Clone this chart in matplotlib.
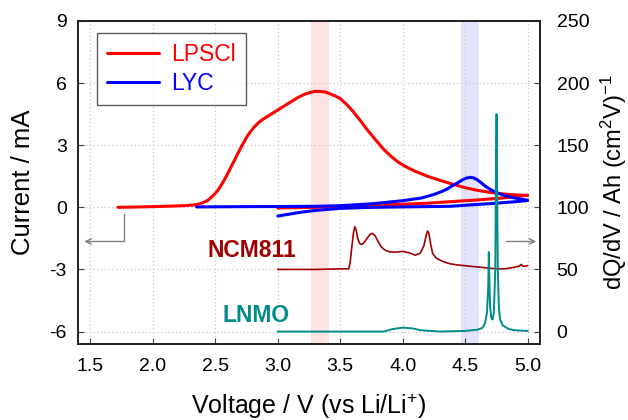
import matplotlib
matplotlib.use("Agg")
import matplotlib.pyplot as plt

plt.rcParams['font.family'] = ['Liberation Sans', 'DejaVu Sans']
plt.rcParams['mathtext.fontset'] = 'custom'
plt.rcParams['mathtext.rm'] = 'Liberation Sans'
plt.rcParams['mathtext.it'] = 'Liberation Sans:italic'

# --- CV data (current, mA) ---
lpscl_fwd_v = [1.72, 1.9, 2.1, 2.25, 2.32, 2.36, 2.40, 2.44, 2.48, 2.52, 2.56, 2.60,
               2.64, 2.68, 2.72, 2.76, 2.80, 2.84, 2.88, 2.92, 2.96, 3.0, 3.04,
               3.08, 3.12, 3.16, 3.21, 3.26, 3.30, 3.34, 3.38, 3.42, 3.46, 3.50,
               3.55, 3.60, 3.66, 3.72, 3.78, 3.84, 3.90, 3.96, 4.02, 4.10, 4.20,
               4.30, 4.40, 4.50, 4.60, 4.70, 4.80, 4.90, 5.0]
lpscl_fwd_i = [0.0, 0.02, 0.05, 0.08, 0.11, 0.15, 0.22, 0.34, 0.55, 0.82, 1.2, 1.64,
               2.12, 2.6, 3.06, 3.48, 3.8, 4.06, 4.25, 4.4, 4.55, 4.7, 4.85,
               5.0, 5.15, 5.3, 5.45, 5.55, 5.6, 5.6, 5.57, 5.48, 5.38, 5.25,
               4.98, 4.65, 4.2, 3.72, 3.28, 2.85, 2.5, 2.2, 1.98, 1.74, 1.5,
               1.3, 1.12, 0.95, 0.82, 0.72, 0.65, 0.6, 0.58]
lpscl_rev_v = [5.0, 4.8, 4.6, 4.4, 4.2, 4.0, 3.75, 3.5, 3.3, 3.0]
lpscl_rev_i = [0.58, 0.45, 0.36, 0.28, 0.2, 0.15, 0.1, 0.05, 0.0, -0.03]

lyc_fwd_v = [2.35, 2.6, 3.0, 3.3, 3.5, 3.75, 4.0, 4.15, 4.25, 4.32, 4.36, 4.40,
             4.45, 4.48, 4.51, 4.54, 4.57, 4.60, 4.63, 4.66, 4.70, 4.75, 4.80,
             4.88, 4.95, 5.0]
lyc_fwd_i = [0.02, 0.03, 0.04, 0.05, 0.08, 0.17, 0.32, 0.45, 0.62, 0.78, 0.9, 1.05,
             1.22, 1.33, 1.41, 1.45, 1.42, 1.32, 1.18, 1.03, 0.87, 0.72, 0.6,
             0.47, 0.39, 0.35]
lyc_rev_v = [5.0, 4.9, 4.75, 4.5, 4.38, 4.0, 3.75, 3.5, 3.3, 3.18, 3.0]
lyc_rev_i = [0.33, 0.27, 0.2, 0.1, 0.05, 0.02, 0.0, -0.05, -0.15, -0.24, -0.42]

# --- dQ/dV data, (cm^2 V)^-1 per Ah, offset curves ---
ncm_v = [3.0, 3.3, 3.5, 3.568, 3.58, 3.595, 3.607, 3.617, 3.627, 3.64, 3.655,
         3.67, 3.69, 3.715, 3.74, 3.76, 3.78, 3.80, 3.83, 3.86, 3.90, 3.95,
         4.0, 4.05, 4.10, 4.14, 4.17, 4.19, 4.20, 4.21, 4.225, 4.24, 4.27,
         4.32, 4.38, 4.45, 4.55, 4.65, 4.75, 4.82, 4.88, 4.93, 4.95, 4.965, 5.0]
ncm_q = [50, 50, 50.5, 50.5, 56, 70, 80, 84.5, 82, 75, 71,
         70, 71.5, 75, 78.5, 79, 77, 73, 68, 65.5, 64, 64,
         64.5, 63.5, 61.5, 63, 69, 78, 81, 79, 70, 63, 59,
         56.5, 54.5, 53.5, 52.5, 51.5, 50.5, 50.5, 51.5, 52.5, 54, 52.5, 53]
lnmo_v = [3.0, 3.85, 3.92, 4.0, 4.08, 4.15, 4.3, 4.5, 4.6, 4.64, 4.66, 4.675,
          4.685, 4.69, 4.695, 4.70, 4.71, 4.72, 4.73, 4.742, 4.748, 4.752, 4.756,
          4.762, 4.77, 4.78, 4.80, 4.85, 4.9, 5.0]
lnmo_q = [0, 0, 2, 3.2, 2.5, 1, 0, 0.5, 1.5, 3, 7, 15,
          35, 64, 40, 20, 11, 9.6, 15, 50, 140, 175, 120,
          50, 20, 10, 5, 2, 1, 0.5]

x_ticks = [1.5, 2.0, 2.5, 3.0, 3.5, 4.0, 4.5, 5.0]
left_ticks = [-6, -3, 0, 3, 6, 9]
right_ticks = [0, 50, 100, 150, 200, 250]

fig = plt.figure(figsize=(6.28, 4.2), dpi=100)
ax = fig.add_axes([0.1242, 0.181, 0.7357, 0.769])
ax2 = ax.twinx()

ax.set_xlim(1.4, 5.1)
ax.set_ylim(-6.6, 9)
ax2.set_ylim(-10, 250)

# highlighted voltage windows
ax.axvspan(3.265, 3.41, color='#ffe3e3', zorder=0, lw=0)
ax.axvspan(4.47, 4.615, color='#e3e3ff', zorder=0, lw=0)

ax.grid(True, color='#c8c8c8', linestyle=(0, (1, 2)), linewidth=0.9, zorder=0.5)
ax.set_axisbelow(True)

red = '#ff0000'
blue = '#0000ff'
line_kw = dict(lw=2.2, zorder=3, solid_capstyle='round', solid_joinstyle='round')
ax.plot(lpscl_fwd_v, lpscl_fwd_i, color=red, label='LPSCl', **line_kw)
ax.plot(lpscl_rev_v, lpscl_rev_i, color=red, **line_kw)
ax.plot(lyc_fwd_v, lyc_fwd_i, color=blue, label='LYC', **line_kw)
ax.plot(lyc_rev_v, lyc_rev_i, color=blue, **line_kw)

ax2.plot(ncm_v, ncm_q, color='#a00000', lw=1.2, solid_joinstyle='round')
ax2.plot(lnmo_v, lnmo_q, color='#008c8c', lw=1.4, solid_joinstyle='round')

ax.text(2.79, -2.08, 'NCM811', color='#a00000', fontsize=16.5, fontweight='bold',
        ha='center', va='center')
ax.text(2.83, -5.23, 'LNMO', color='#008c8c', fontsize=16.5, fontweight='bold',
        ha='center', va='center')

# axis pointers
ax.plot([1.765, 1.765], [-0.3, -1.65], color='#808080', lw=1.0, zorder=2)
ax.annotate('', xy=(1.45, -1.65), xytext=(1.765, -1.65),
            arrowprops=dict(arrowstyle='->', color='#808080', lw=1.0,
                            shrinkA=0, shrinkB=0))
ax.annotate('', xy=(5.07, -1.65), xytext=(4.83, -1.65),
            arrowprops=dict(arrowstyle='->', color='#808080', lw=1.0,
                            shrinkA=0, shrinkB=0))

ax.set_xticks(x_ticks)
ax.set_xticklabels([f'{t:.1f}' for t in x_ticks])
ax.set_yticks(left_ticks)
ax.set_yticklabels([str(t) for t in left_ticks])
ax2.set_yticks(right_ticks)
ax2.set_yticklabels([str(t) for t in right_ticks])

ax.tick_params(axis='both', direction='in', length=4, labelsize=14, pad=8,
               color='#404040')
ax.tick_params(axis='x', pad=10)
ax2.tick_params(axis='y', direction='in', length=4, labelsize=14, pad=12,
                color='#404040')

for a in (ax, ax2):
    for s in a.spines.values():
        s.set_linewidth(1.2)
        s.set_color('#202020')

ax.set_xlabel('Voltage / V (vs Li/Li$^{+}$)', fontsize=18, labelpad=12)
fig.text(23 / 628, 1 - 182.5 / 420, 'Current / mA', fontsize=18.5, rotation=90,
         ha='center', va='center')
fig.text(613.5 / 628, 1 - 182.5 / 420, 'dQ/dV / Ah (cm$^{2}$V)$^{-1}$',
         fontsize=17, rotation=90, ha='center', va='center')

leg = ax.legend(loc='upper left', bbox_to_anchor=(0.041, 0.963), fontsize=16.5,
                frameon=True, fancybox=False, handlelength=2.25,
                borderpad=0.45, labelspacing=0.25, handletextpad=0.55,
                borderaxespad=0)
leg.get_frame().set_edgecolor('#303030')
leg.get_frame().set_linewidth(1.0)
for t, c in zip(leg.get_texts(), [red, blue]):
    t.set_color(c)

fig.savefig('out.png', dpi=100)
